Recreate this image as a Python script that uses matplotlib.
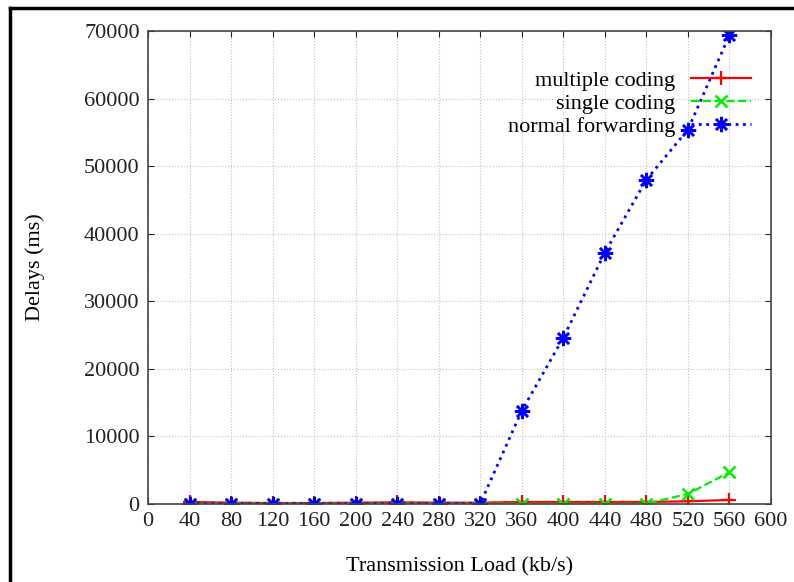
import numpy as np
import matplotlib.pyplot as plt
from matplotlib.lines import Line2D

plt.rcParams['font.family'] = 'Liberation Serif'
plt.rcParams['font.size'] = 16

# transmission load (kb/s)
load = [40, 80, 120, 160, 200, 240, 280, 320, 360, 400, 440, 480, 520, 560]
multiple_coding = [300, 200, 150, 150, 200, 250, 200, 200, 300, 300, 300, 300, 400, 600]
single_coding = [50, 50, 50, 50, 50, 50, 50, 50, 50, 50, 50, 50, 1500, 4700]
normal_forwarding = [50, 50, 50, 50, 50, 50, 50, 50, 13800, 24600, 37200, 48000, 55400, 69400]

xticks = list(range(0, 601, 40))
yticks = list(range(0, 70001, 10000))

fig = plt.figure(figsize=(7.94, 5.82), dpi=100)
ax = fig.add_axes([0.1864, 0.134, 0.7846, 0.8127])

ax.plot(load, multiple_coding, color='red', ls='-', lw=1.6, marker='+', ms=10, mew=1.6,
        label='multiple coding')
ax.plot(load, single_coding, color='#00ee00', ls='--', lw=1.6, marker='x', ms=9, mew=1.8,
        label='single coding')
ax.plot(load, normal_forwarding, color='blue', ls=':', lw=2, marker=(8, 2, 0), ms=11, mew=1.8,
        label='normal forwarding')

ax.set_xlim(0, 600)
ax.set_ylim(0, 70000)
ax.set_xticks(xticks)
ax.set_yticks(yticks)
ax.grid(True, color='#c0c0c0', ls=':', lw=0.8)
ax.tick_params(direction='in', top=True, right=True, length=4, pad=6, colors='#222222')
for s in ax.spines.values():
    s.set_color('#444444')
    s.set_linewidth(1.2)

ax.set_xlabel('Transmission Load (kb/s)', labelpad=19)
ax.set_ylabel('Delays (ms)', labelpad=28)

ax.legend(loc='upper right', bbox_to_anchor=(0.985, 0.94), frameon=False, markerfirst=False,
          handlelength=2.7, labelspacing=0.1, borderpad=0, handletextpad=0.7)

# outer frame of the page
fig.add_artist(Line2D([0.0126, 0.0126], [0, 0.986], transform=fig.transFigure, color='black', lw=2.5))
fig.add_artist(Line2D([0.0126, 0.999], [0.986, 0.986], transform=fig.transFigure, color='black', lw=2.5))

plt.savefig('out.png', dpi=100)
